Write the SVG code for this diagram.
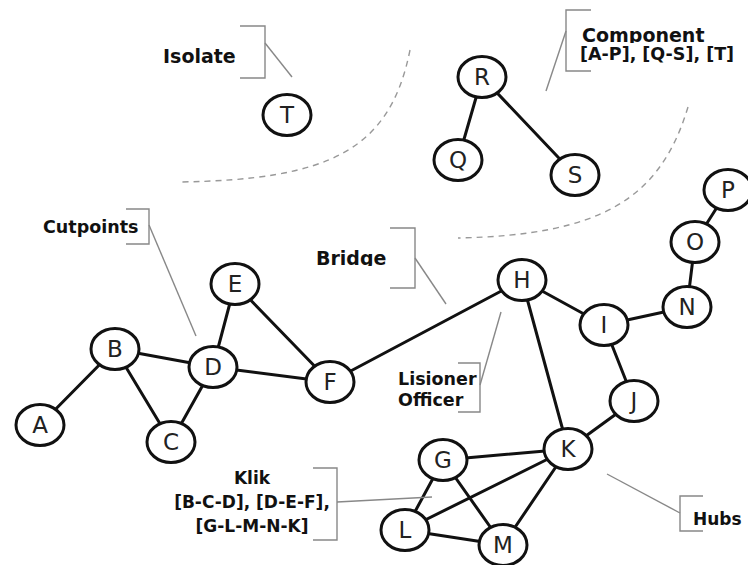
<svg xmlns="http://www.w3.org/2000/svg" width="748" height="565" viewBox="0 0 748 565">
<style>
.edge{stroke:#111;stroke-width:3;fill:none;stroke-linecap:round}
.node ellipse{fill:#fff;stroke:#111;stroke-width:3}
.node text{font-family:"DejaVu Sans",Verdana,sans-serif;font-size:23px;fill:#222;text-anchor:middle}
.lbl{font-family:"DejaVu Sans",Verdana,sans-serif;font-weight:bold;fill:#111}
.brk{stroke:#888;stroke-width:1.4;fill:none}
.dash{stroke:#999;stroke-width:1.4;fill:none;stroke-dasharray:6 5}
</style>
<defs>
<clipPath id="clipComp"><rect x="570" y="0" width="178" height="43"/></clipPath>
<clipPath id="clipBridge"><rect x="300" y="230" width="110" height="36"/></clipPath>
</defs>
<rect width="748" height="565" fill="#fff"/>
<g id="boundaries">
<path class="dash" d="M410,50 C390,150 330,180 178,182"/>
<path class="dash" d="M688,107 C660,200 600,235 458,238"/>
</g>
<g id="connectors">
<line class="edge" x1="40" y1="425" x2="115" y2="349"/>
<line class="edge" x1="115" y1="349" x2="213" y2="367"/>
<line class="edge" x1="115" y1="349" x2="171" y2="442"/>
<line class="edge" x1="171" y1="442" x2="213" y2="367"/>
<line class="edge" x1="213" y1="367" x2="235" y2="284"/>
<line class="edge" x1="213" y1="367" x2="330" y2="382"/>
<line class="edge" x1="235" y1="284" x2="330" y2="382"/>
<line class="edge" x1="330" y1="382" x2="522" y2="280"/>
<line class="edge" x1="522" y1="280" x2="604" y2="325"/>
<line class="edge" x1="522" y1="280" x2="568" y2="449"/>
<line class="edge" x1="604" y1="325" x2="687" y2="307"/>
<line class="edge" x1="687" y1="307" x2="695" y2="242"/>
<line class="edge" x1="695" y1="242" x2="728" y2="190"/>
<line class="edge" x1="604" y1="325" x2="634" y2="401"/>
<line class="edge" x1="634" y1="401" x2="568" y2="449"/>
<line class="edge" x1="568" y1="449" x2="443" y2="460"/>
<line class="edge" x1="568" y1="449" x2="405" y2="530"/>
<line class="edge" x1="568" y1="449" x2="503" y2="545"/>
<line class="edge" x1="443" y1="460" x2="405" y2="530"/>
<line class="edge" x1="443" y1="460" x2="503" y2="545"/>
<line class="edge" x1="405" y1="530" x2="503" y2="545"/>
<line class="edge" x1="482" y1="77" x2="458" y2="160"/>
<line class="edge" x1="482" y1="77" x2="575" y2="175"/>
</g>
<g id="node-A" class="node"><ellipse cx="40" cy="425" rx="24" ry="20.5"/><text x="40" y="433">A</text></g>
<g id="node-B" class="node"><ellipse cx="115" cy="349" rx="24" ry="20.5"/><text x="115" y="357">B</text></g>
<g id="node-C" class="node"><ellipse cx="171" cy="442" rx="24" ry="20.5"/><text x="171" y="450">C</text></g>
<g id="node-D" class="node"><ellipse cx="213" cy="367" rx="24" ry="20.5"/><text x="213" y="375">D</text></g>
<g id="node-E" class="node"><ellipse cx="235" cy="284" rx="24" ry="20.5"/><text x="235" y="292">E</text></g>
<g id="node-F" class="node"><ellipse cx="330" cy="382" rx="24" ry="20.5"/><text x="330" y="390">F</text></g>
<g id="node-H" class="node"><ellipse cx="522" cy="280" rx="24" ry="20.5"/><text x="522" y="288">H</text></g>
<g id="node-I" class="node"><ellipse cx="604" cy="325" rx="24" ry="20.5"/><text x="604" y="333">I</text></g>
<g id="node-J" class="node"><ellipse cx="634" cy="401" rx="24" ry="20.5"/><text x="634" y="409">J</text></g>
<g id="node-K" class="node"><ellipse cx="568" cy="449" rx="24" ry="20.5"/><text x="568" y="457">K</text></g>
<g id="node-G" class="node"><ellipse cx="443" cy="460" rx="24" ry="20.5"/><text x="443" y="468">G</text></g>
<g id="node-L" class="node"><ellipse cx="405" cy="530" rx="24" ry="20.5"/><text x="405" y="538">L</text></g>
<g id="node-M" class="node"><ellipse cx="503" cy="545" rx="24" ry="20.5"/><text x="503" y="553">M</text></g>
<g id="node-N" class="node"><ellipse cx="687" cy="307" rx="24" ry="20.5"/><text x="687" y="315">N</text></g>
<g id="node-O" class="node"><ellipse cx="695" cy="242" rx="24" ry="20.5"/><text x="695" y="250">O</text></g>
<g id="node-P" class="node"><ellipse cx="728" cy="190" rx="24" ry="20.5"/><text x="728" y="198">P</text></g>
<g id="node-Q" class="node"><ellipse cx="458" cy="160" rx="24" ry="20.5"/><text x="458" y="168">Q</text></g>
<g id="node-R" class="node"><ellipse cx="482" cy="77" rx="24" ry="20.5"/><text x="482" y="85">R</text></g>
<g id="node-S" class="node"><ellipse cx="575" cy="175" rx="24" ry="20.5"/><text x="575" y="183">S</text></g>
<g id="node-T" class="node"><ellipse cx="287" cy="115" rx="24" ry="20.5"/><text x="287" y="123">T</text></g>
<g id="label-isolate">
<text class="lbl" x="163" y="63" font-size="19">Isolate</text>
<polyline class="brk" points="240,26 265,26 265,78 240,78"/>
<line class="brk" x1="265" y1="43" x2="292" y2="77"/>
</g>
<g id="label-component">
<text class="lbl" x="582" y="42" font-size="19" clip-path="url(#clipComp)">Component</text>
<text class="lbl" x="580" y="60" font-size="17.5">[A-P], [Q-S], [T]</text>
<polyline class="brk" points="591,10 566,10 566,71 591,71"/>
<line class="brk" x1="566" y1="31" x2="546" y2="91"/>
</g>
<g id="label-cutpoints">
<text class="lbl" x="43" y="233" font-size="17.5">Cutpoints</text>
<polyline class="brk" points="126,209 149,209 149,244 126,244"/>
<line class="brk" x1="149" y1="225" x2="196" y2="336"/>
</g>
<g id="label-bridge">
<text class="lbl" x="316" y="265" font-size="19" clip-path="url(#clipBridge)">Bridge</text>
<polyline class="brk" points="390,228 415,228 415,288 390,288"/>
<line class="brk" x1="415" y1="258" x2="446" y2="304"/>
</g>
<g id="label-lisioner">
<text class="lbl" x="398" y="385" font-size="17.5">Lisioner</text>
<text class="lbl" x="398" y="406" font-size="17.5">Officer</text>
<polyline class="brk" points="458,363 480,363 480,412 458,412"/>
<line class="brk" x1="480" y1="385" x2="501" y2="312"/>
</g>
<g id="label-klik">
<text class="lbl" x="252" y="484" font-size="17" text-anchor="middle">Klik</text>
<text class="lbl" x="252" y="508" font-size="17" text-anchor="middle">[B-C-D], [D-E-F],</text>
<text class="lbl" x="252" y="532" font-size="17" text-anchor="middle">[G-L-M-N-K]</text>
<polyline class="brk" points="313,468 337,468 337,540 313,540"/>
<line class="brk" x1="337" y1="502" x2="432" y2="497"/>
</g>
<g id="label-hubs">
<text class="lbl" x="693" y="525" font-size="17">Hubs</text>
<polyline class="brk" points="703,496 680,496 680,531 703,531"/>
<line class="brk" x1="680" y1="513" x2="607" y2="474"/>
</g>
</svg>
